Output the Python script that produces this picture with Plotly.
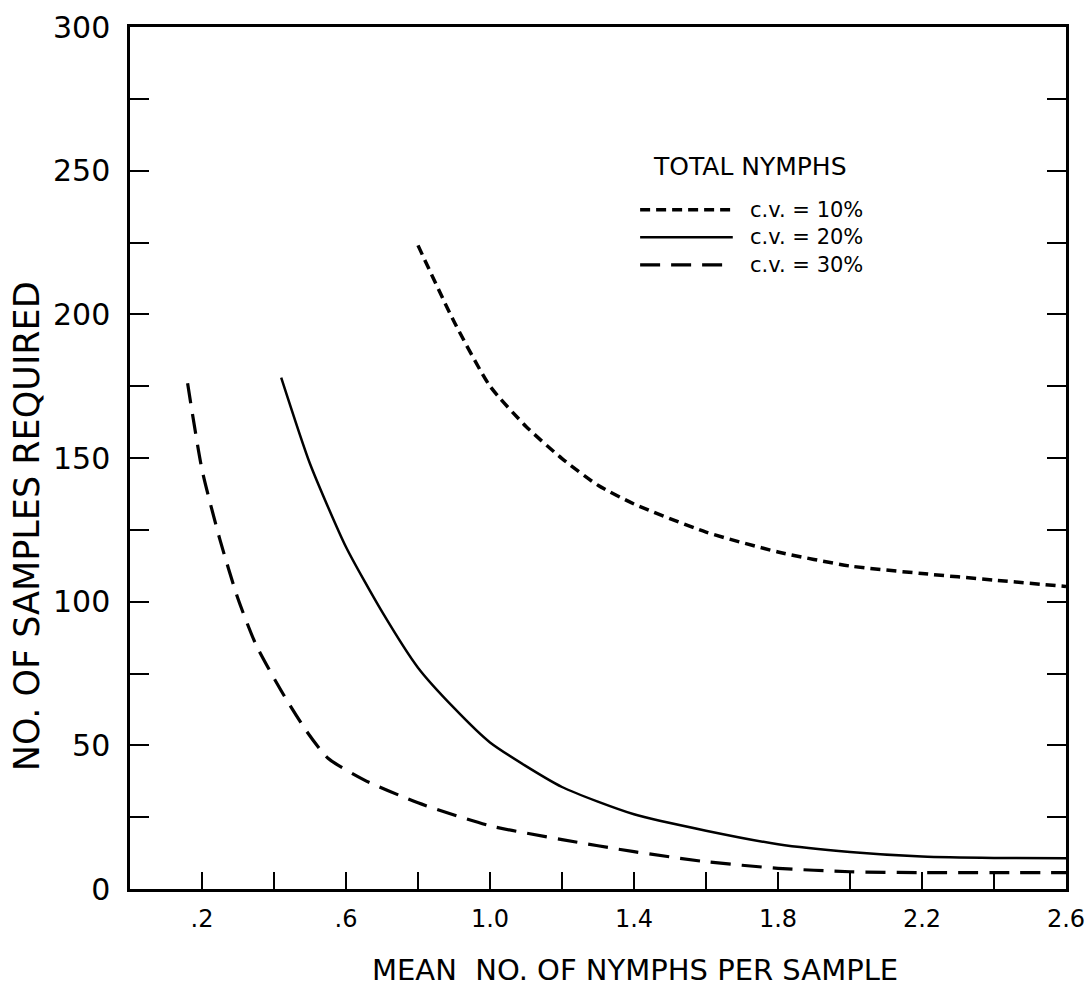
import plotly.graph_objects as go

# Mean number of nymphs per sample vs. number of samples required
cv10_x = [0.80, 0.90, 1.00, 1.10, 1.20, 1.30, 1.40, 1.60, 1.80, 2.00, 2.20, 2.40, 2.60]
cv10_y = [224, 197.5, 175, 161, 149.8, 140.5, 134, 124.2, 117.3, 112.4, 109.8, 107.5, 105.3]

cv20_x = [0.42, 0.50, 0.60, 0.70, 0.80, 0.90, 1.00, 1.20, 1.40, 1.60, 1.80, 2.00, 2.20, 2.40, 2.60]
cv20_y = [178, 148, 119, 96.5, 77, 63, 51, 35.5, 26, 20.3, 15.6, 12.9, 11.3, 10.8, 10.7]

cv30_x = [0.16, 0.20, 0.25, 0.30, 0.35, 0.42, 0.49, 0.55, 0.65, 0.80, 1.00, 1.20, 1.40, 1.60, 1.80, 2.00, 2.20, 2.60]
cv30_y = [176, 146, 121.5, 101, 85, 69, 55, 45.5, 38, 30, 22, 17.2, 13, 9.5, 7.2, 6.0, 5.7, 5.7]

x_tickvals = [0.2, 0.4, 0.6, 0.8, 1.0, 1.2, 1.4, 1.6, 1.8, 2.0, 2.2, 2.4, 2.6]
x_ticktext = [".2", "", ".6", "", "1.0", "", "1.4", "", "1.8", "", "2.2", "", "2.6"]
y_tickvals = list(range(0, 301, 25))
y_ticktext = [str(v) if v % 50 == 0 else "" for v in y_tickvals]

x_title = "MEAN  NO. OF NYMPHS PER SAMPLE"
y_title = "NO. OF SAMPLES REQUIRED"
legend_title = "TOTAL NYMPHS"
legend_labels = ["c.v. = 10%", "c.v. = 20%", "c.v. = 30%"]

FONT = "DejaVu Sans"
styles = [
    dict(width=3.5, dash="10px,6px"),
    dict(width=2.5, dash="solid"),
    dict(width=3.2, dash="20px,11px"),
]

fig = go.Figure()
for xs, ys, st, name in zip([cv10_x, cv20_x, cv30_x], [cv10_y, cv20_y, cv30_y], styles, legend_labels):
    fig.add_trace(go.Scatter(
        x=xs, y=ys, mode="lines", name=name, showlegend=False,
        line=dict(color="black", width=st["width"], dash=st["dash"], shape="spline", smoothing=0.6),
    ))

# hand-built key inside the plotting area
shapes = []
annotations = []
row_y = [0.788, 0.756, 0.724]
for ry, st, label in zip(row_y, styles, legend_labels):
    shapes.append(dict(type="line", xref="paper", yref="paper",
                       x0=0.545, x1=0.644, y0=ry, y1=ry,
                       line=dict(color="black", width=st["width"], dash=st["dash"])))
    annotations.append(dict(text=label, xref="paper", yref="paper", x=0.660, y=ry,
                            xanchor="left", yanchor="middle", showarrow=False,
                            font=dict(family=FONT, size=21, color="black")))
annotations.append(dict(text=legend_title, xref="paper", yref="paper", x=0.662, y=0.838,
                        xanchor="center", yanchor="middle", showarrow=False,
                        font=dict(family=FONT, size=25, color="black")))

# axis titles
annotations.append(dict(text=x_title, xref="paper", yref="paper", x=0.5395, y=-0.0945,
                        xanchor="center", yanchor="middle", showarrow=False,
                        font=dict(family=FONT, size=29, color="black")))
annotations.append(dict(text=y_title, xref="paper", yref="paper", x=-0.110, y=0.421,
                        xanchor="center", yanchor="middle", showarrow=False, textangle=-90,
                        font=dict(family=FONT, size=35, color="black")))

fig.update_layout(
    width=1085, height=993,
    margin=dict(l=130, r=19, t=27, b=104),
    paper_bgcolor="white", plot_bgcolor="white",
    shapes=shapes, annotations=annotations,
    font=dict(family=FONT, color="black"),
)
fig.update_xaxes(
    range=[0, 2.6], tickvals=x_tickvals, ticktext=x_ticktext,
    ticks="inside", ticklen=17, tickwidth=2, tickcolor="black",
    showline=True, linecolor="black", linewidth=2.5, mirror=True,
    showgrid=False, zeroline=False, automargin=False, ticklabelstandoff=6,
    ticklabeloverflow="allow",
    tickfont=dict(family=FONT, size=24, color="black"),
)
fig.update_yaxes(
    range=[0, 300], tickvals=y_tickvals, ticktext=y_ticktext,
    ticks="inside", ticklen=19, tickwidth=2, tickcolor="black",
    showline=True, linecolor="black", linewidth=2.5, mirror="ticks",
    showgrid=False, zeroline=False, automargin=False, ticklabelstandoff=11,
    ticklabeloverflow="allow",
    tickfont=dict(family=FONT, size=30, color="black"),
)

fig.write_html("out.html")
